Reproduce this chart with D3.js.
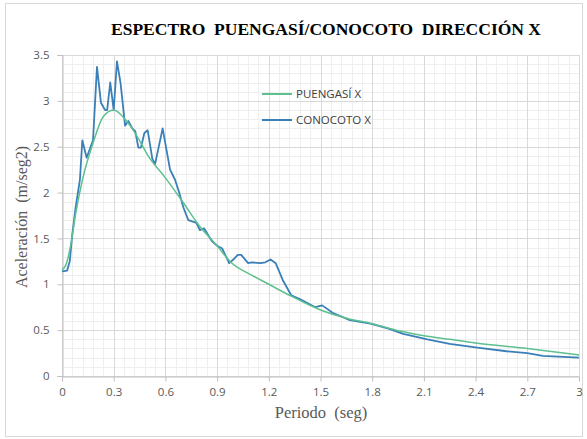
<!DOCTYPE html>
<html>
<head>
<meta charset="utf-8">
<script src="https://cdn.jsdelivr.net/npm/d3@7"></script>
<style>
  body { margin: 0; background: #fff; }
  svg { display: block; }
</style>
</head>
<body>
<svg id="main-svg" width="587" height="439"></svg>
<script>
// periods (s) and accelerations (m/seg2)
const puengasiT = [0, 0.02, 0.05, 0.08, 0.12, 0.18, 0.24, 0.3, 0.37, 0.44, 0.5, 0.6, 0.7, 0.8, 0.9, 0.98,
    1.1, 1.2, 1.32, 1.5, 1.65, 1.8, 1.96, 2.1, 2.25, 2.4, 2.7, 3.0];
const puengasiA = [1.16, 1.2, 1.42, 1.78, 2.15, 2.54, 2.83, 2.9, 2.79, 2.6, 2.4, 2.16, 1.9, 1.63, 1.42, 1.24,
    1.1, 1.0, 0.88, 0.72, 0.63, 0.57, 0.49, 0.44, 0.4, 0.36, 0.3, 0.23];

const conocotoT = [0, 0.03, 0.045, 0.06, 0.08, 0.104, 0.118, 0.143, 0.18, 0.203, 0.226, 0.25, 0.262, 0.28, 0.3,
    0.319, 0.34, 0.366, 0.385, 0.408, 0.425, 0.443, 0.458, 0.478, 0.497, 0.524, 0.54, 0.584, 0.627, 0.656,
    0.68, 0.704, 0.733, 0.78, 0.8, 0.824, 0.87, 0.9, 0.93, 0.97, 0.994, 1.02, 1.04, 1.08, 1.1, 1.15, 1.18,
    1.21, 1.24, 1.28, 1.33, 1.38, 1.47, 1.51, 1.57, 1.67, 1.79, 1.89, 1.98, 2.12, 2.25, 2.41, 2.58, 2.7,
    2.79, 3.0];
const conocotoA = [1.14, 1.15, 1.25, 1.55, 1.85, 2.14, 2.57, 2.38, 2.57, 3.37, 2.98, 2.9, 2.9, 3.2, 2.9,
    3.43, 3.19, 2.73, 2.78, 2.7, 2.67, 2.49, 2.49, 2.65, 2.68, 2.37, 2.31, 2.7, 2.25, 2.14,
    2.0, 1.84, 1.7, 1.67, 1.59, 1.61, 1.47, 1.42, 1.39, 1.23, 1.27, 1.32, 1.32, 1.23, 1.24, 1.23, 1.24,
    1.27, 1.23, 1.05, 0.88, 0.84, 0.75, 0.77, 0.69, 0.61, 0.57, 0.52, 0.46, 0.4, 0.35, 0.31, 0.27, 0.25,
    0.22, 0.2];

const xTicks = [0, 0.3, 0.6, 0.9, 1.2, 1.5, 1.8, 2.1, 2.4, 2.7, 3];
const yTicks = [0, 0.5, 1, 1.5, 2, 2.5, 3, 3.5];

const svg = d3.select('#main-svg');

const plotLeft = 62, plotRight = 579, plotTop = 55, plotBottom = 376;
const x = d3.scaleLinear().domain([0, 3]).range([plotLeft, plotRight]);
const y = d3.scaleLinear().domain([0, 3.5]).range([plotBottom, plotTop]);

// outer frame
svg.append('rect')
    .attr('x', 5.5).attr('y', 3.5).attr('width', 577).attr('height', 433)
    .attr('fill', '#fff').attr('stroke', '#d9d9d9');

// minor grid
const gMinor = svg.append('g').attr('stroke', '#efefef').attr('stroke-width', 1);
gMinor.selectAll('line.vx')
    .data(d3.range(0, 3.0001, 0.06))
    .enter().append('line')
    .attr('x1', d => Math.round(x(d)) + 0.5).attr('x2', d => Math.round(x(d)) + 0.5)
    .attr('y1', plotTop).attr('y2', plotBottom);
gMinor.selectAll('line.hy')
    .data(d3.range(0, 3.5001, 0.1))
    .enter().append('line')
    .attr('y1', d => Math.round(y(d)) + 0.5).attr('y2', d => Math.round(y(d)) + 0.5)
    .attr('x1', plotLeft).attr('x2', plotRight);

// major grid
const gMajor = svg.append('g').attr('stroke', '#d9d9d9').attr('stroke-width', 1);
gMajor.selectAll('line.vx')
    .data(xTicks)
    .enter().append('line')
    .attr('x1', d => Math.round(x(d)) + 0.5).attr('x2', d => Math.round(x(d)) + 0.5)
    .attr('y1', plotTop).attr('y2', plotBottom);
gMajor.selectAll('line.hy')
    .data(yTicks)
    .enter().append('line')
    .attr('y1', d => Math.round(y(d)) + 0.5).attr('y2', d => Math.round(y(d)) + 0.5)
    .attr('x1', plotLeft).attr('x2', plotRight);

// axes
const xAxis = svg.append('g')
    .attr('transform', `translate(0,${Math.round(y(0)) + 0.5})`)
    .call(d3.axisBottom(x).tickValues(xTicks).tickFormat(d3.format('')).tickSize(5).tickPadding(6));
const yAxis = svg.append('g')
    .attr('transform', `translate(${Math.round(x(0)) + 0.5},0)`)
    .call(d3.axisLeft(y).tickValues(yTicks).tickFormat(d3.format('')).tickSize(5).tickPadding(8));
[xAxis, yAxis].forEach(g => {
    g.select('.domain').attr('stroke', '#bfbfbf');
    g.selectAll('.tick line').attr('stroke', '#bfbfbf');
    g.selectAll('.tick text')
        .attr('fill', '#595959')
        .style('font-family', '"Open Sans", "Liberation Sans", sans-serif')
        .style('font-size', '11.5px');
});

// series
const line = d3.line().x(d => x(d[0])).y(d => y(d[1])).curve(d3.curveMonotoneX);
const puengasi = d3.zip(puengasiT, puengasiA);
const conocoto = d3.zip(conocotoT, conocotoA);

svg.append('path')
    .datum(conocoto)
    .attr('d', d3.line().x(d => x(d[0])).y(d => y(d[1])).curve(d3.curveLinear))
    .attr('fill', 'none')
    .attr('stroke', '#3b7fb8')
    .attr('stroke-width', 1.8)
    .attr('stroke-linejoin', 'round');

svg.append('path')
    .datum(puengasi)
    .attr('d', line)
    .attr('fill', 'none')
    .attr('stroke', '#5cc08f')
    .attr('stroke-width', 1.5);

// legend
const legend = [
    { name: 'PUENGASÍ X', color: '#5cc08f', y: 94 },
    { name: 'CONOCOTO X', color: '#3b7fb8', y: 120 },
];
const lg = svg.append('g');
lg.selectAll('line')
    .data(legend)
    .enter().append('line')
    .attr('x1', 262).attr('x2', 292)
    .attr('y1', d => d.y).attr('y2', d => d.y)
    .attr('stroke', d => d.color).attr('stroke-width', 2);
lg.selectAll('text')
    .data(legend)
    .enter().append('text')
    .attr('x', 296).attr('y', d => d.y + 4)
    .attr('fill', '#404040')
    .style('font-family', '"Open Sans", "Liberation Sans", sans-serif')
    .style('font-size', '11.5px')
    .text(d => d.name);

// title
svg.append('text')
    .attr('x', 326).attr('y', 35)
    .attr('text-anchor', 'middle')
    .style('font-family', '"Liberation Serif", "DejaVu Serif", serif')
    .style('font-weight', 'bold')
    .style('font-size', '17.5px')
    .attr('fill', '#000')
    .attr('xml:space', 'preserve')
    .text('ESPECTRO  PUENGASÍ/CONOCOTO  DIRECCIÓN X');

// axis titles
svg.append('text')
    .attr('x', 321).attr('y', 418)
    .attr('text-anchor', 'middle')
    .style('font-family', '"Liberation Serif", "DejaVu Serif", serif')
    .style('font-size', '16.5px')
    .attr('fill', '#595959')
    .attr('xml:space', 'preserve')
    .text('Periodo  (seg)');

svg.append('text')
    .attr('transform', 'translate(27,217) rotate(-90)')
    .attr('text-anchor', 'middle')
    .style('font-family', '"Liberation Serif", "DejaVu Serif", serif')
    .style('font-size', '16px')
    .attr('fill', '#595959')
    .attr('xml:space', 'preserve')
    .text('Aceleración  (m/seg2)');
</script>
</body>
</html>
